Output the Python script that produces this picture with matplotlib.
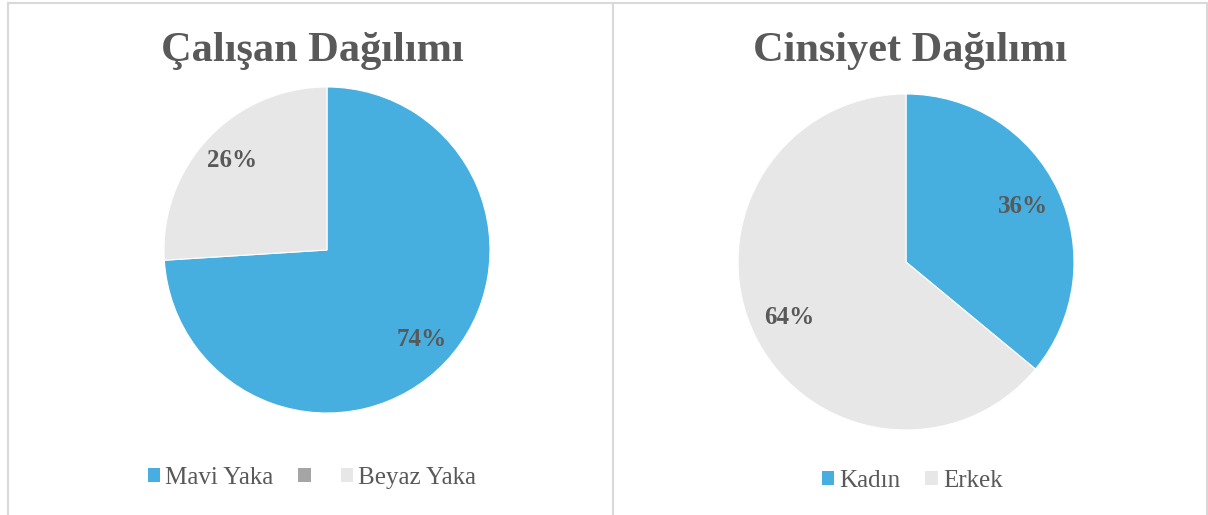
import matplotlib.pyplot as plt
from matplotlib.patches import Patch
from matplotlib.lines import Line2D

plt.rcParams['font.family'] = ['Liberation Serif', 'DejaVu Serif']

W, H = 1208, 515

calisan_etiket = ["Mavi Yaka", "", "Beyaz Yaka"]
calisan_deger = [74, 0, 26]
calisan_renk = ["#46AFE0", "#A5A5A5", "#E7E7E7"]

cinsiyet_etiket = ["Kadın", "Erkek"]
cinsiyet_deger = [36, 64]
cinsiyet_renk = ["#46AFE0", "#E7E7E7"]

yazi = "#595959"
cerceve = "#D9D9D9"

fig = plt.figure(figsize=(W / 100, H / 100), dpi=100)


def px_ax(cx, cy, r):
    return fig.add_axes([(cx - r) / W, (H - cy - r) / H, 2 * r / W, 2 * r / H])


def pasta(ax, degerler, renkler, pctd):
    d = [v for v in degerler if v > 0]
    c = [renkler[i] for i, v in enumerate(degerler) if v > 0]
    ax.pie(d, colors=c, startangle=90, counterclock=False,
           autopct=lambda p: f"{p:.0f}%", pctdistance=pctd,
           wedgeprops=dict(edgecolor="white", linewidth=0.8),
           textprops=dict(color=yazi, fontsize=18, fontweight="bold"))
    ax.set_aspect("equal")
    ax.set_xlim(-1, 1)
    ax.set_ylim(-1, 1)


ax1 = px_ax(327, 250, 163)
pasta(ax1, calisan_deger, calisan_renk, 0.8)
ax2 = px_ax(906, 262, 168)
pasta(ax2, cinsiyet_deger, cinsiyet_renk, 0.77)

fig.text(312 / W, 1 - 51 / H, "Çalışan Dağılımı", ha="center", va="center",
         fontsize=30.5, fontweight="bold", color=yazi)
fig.text(910 / W, 1 - 51 / H, "Cinsiyet Dağılımı", ha="center", va="center",
         fontsize=30.5, fontweight="bold", color=yazi)

h1 = [Patch(facecolor=c) for c in calisan_renk]
fig.legend(h1, calisan_etiket, loc="center", bbox_to_anchor=(312 / W, 1 - 478 / H),
           ncol=3, frameon=False, fontsize=18, labelcolor=yazi,
           handlelength=0.5, handleheight=0.5, handletextpad=0.2, columnspacing=1.0)
h2 = [Patch(facecolor=c) for c in cinsiyet_renk]
fig.legend(h2, cinsiyet_etiket, loc="center", bbox_to_anchor=(912 / W, 1 - 481 / H),
           ncol=2, frameon=False, fontsize=18, labelcolor=yazi,
           handlelength=0.5, handleheight=0.5, handletextpad=0.2, columnspacing=1.0)

# panel cerceveleri
for (x0, y0, x1, y1) in [(8, 3, 1207, 3), (8, 3, 8, 515), (613, 3, 613, 515), (1207, 3, 1207, 515)]:
    fig.add_artist(Line2D([x0 / W, x1 / W], [1 - y0 / H, 1 - y1 / H],
                          transform=fig.transFigure, color=cerceve, linewidth=1.5))

fig.savefig("out.png", dpi=100)
